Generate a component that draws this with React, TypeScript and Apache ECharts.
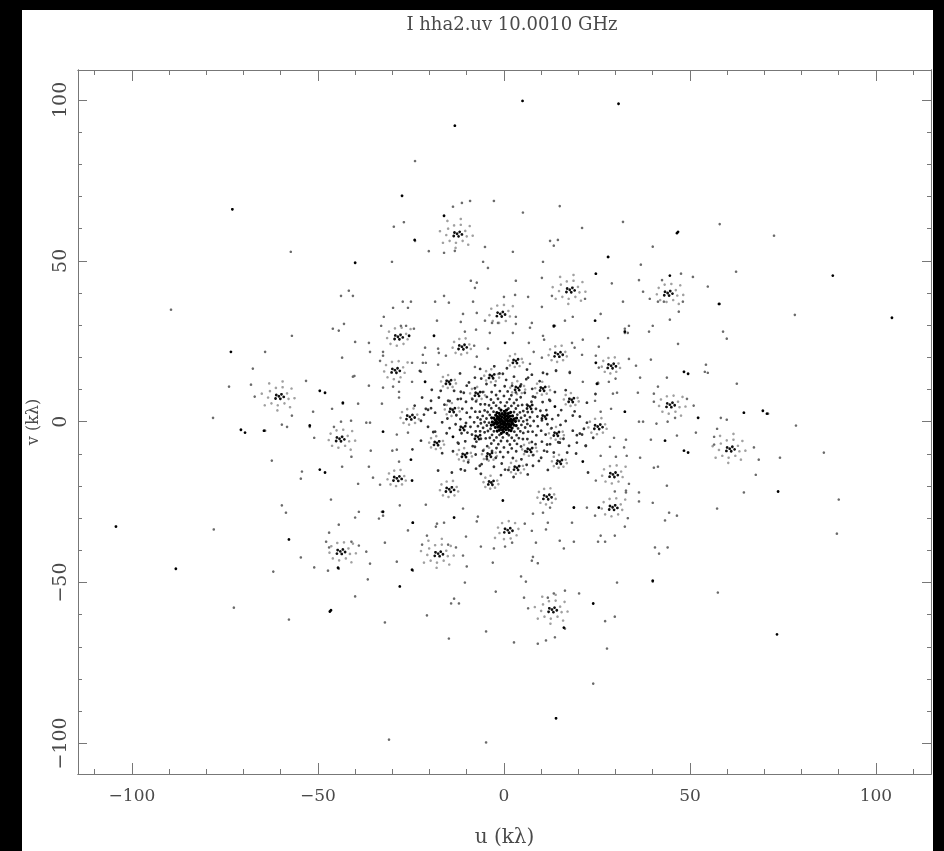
import React, { useEffect, useRef } from "react";
import * as echarts from "echarts";

type P = [number, number];

const titleText = "I hha2.uv 10.0010 GHz";
const xName = "u (kλ)";
const yName = "v (kλ)";
const majorTicks = [-100, -50, 0, 50, 100];
const minorTicks = [-110, -90, -80, -70, -60, -40, -30, -20, -10, 10, 20, 30, 40, 60, 70, 80, 90, 110];
const xRange = [-114.5, 114.8];
const yRange = [-109.5, 109.3];

const centreBlob: P[] = [
[0,0],[0.5,0.4],[-0.5,0.3],[0.3,-0.5],[-0.4,-0.5],[1,0.1],[-1,0],[0.1,1],[0,-1],[0.8,0.8],[-0.8,0.8],[0.8,-0.8],[-0.8,-0.8],
[1.5,0.4],[-1.5,-0.4],[1.4,-0.6],[-1.4,0.6],[0.4,1.6],[-0.4,-1.6],[-0.5,1.5],[0.5,-1.5],[1.2,1.3],[-1.2,-1.3],[1.3,-1.2],[-1.3,1.2],
[2,0],[-2,0],[0,2.1],[0,-2.1],[1.9,0.8],[-1.9,-0.8],[1.8,-1],[-1.8,1],[0.9,1.9],[-0.9,-1.9],[-1,1.9],[1,-1.9],[2.4,0.4],[-2.4,-0.4],[2.3,-0.5],[-2.3,0.5],
[1.6,1.7],[-1.6,-1.7],[1.7,-1.6],[-1.7,1.6],[0.4,2.6],[-0.4,-2.6],[-0.5,2.5],[0.5,-2.5],[2.8,0.9],[-2.8,-0.9],[2.7,-1.1],[-2.7,1.1],[1.2,2.6],[-1.2,-2.6],[-1.3,2.6],[1.3,-2.6],
[3.1,0.1],[-3.1,-0.1],[2.3,1.8],[-2.3,-1.8],[2.2,-2],[-2.2,2],[0.1,3.2],[-0.1,-3.2],[3.3,-1.2],[-3.3,1.2],[3.4,1.1],[-3.4,-1.1],[1.8,2.9],[-1.8,-2.9],[-1.9,2.8],[1.9,-2.8],[0.7,3.6],[-0.7,-3.6],[-0.8,3.6],[0.8,-3.6],
];

const innerDots: P[] = [
[4,0.3],[-4,-0.3],[3.6,2.2],[-3.6,-2.2],[3.8,-2.1],[-3.8,2.1],[2.7,3],[-2.7,-3],[2.8,-3.1],[-2.8,3.1],[1.2,4.1],[-1.2,-4.1],[-1.3,4.2],[1.3,-4.2],[4.6,1.2],[-4.6,-1.2],[4.7,-1],[-4.7,1],
[5.2,0.1],[-5.2,-0.1],[4.3,2.9],[-4.3,-2.9],[4.4,-3],[-4.4,3],[3.2,4.1],[-3.2,-4.1],[3.4,-4.2],[-3.4,4.2],[0.3,4.9],[-0.3,-4.9],[2,4.9],[-2,-4.9],[-2.1,5],[2.1,-5],[5.6,1.9],[-5.6,-1.9],[5.7,-1.8],[-5.7,1.8],
[6.2,0.5],[-6.2,-0.5],[6.3,-0.7],[-6.3,0.7],[5.2,3.3],[-5.2,-3.3],[5.2,-3.5],[-5.2,3.5],[3.8,5],[-3.8,-5],[4,-5.1],[-4,5.1],[0.8,6],[-0.8,-6],[-0.9,6],[0.9,-6],[2.7,5.8],[-2.7,-5.8],[-2.8,5.9],[2.8,-5.9],
[7,1.4],[-7,-1.4],[7.1,-1.3],[-7.1,1.3],[6.4,3],[-6.4,-3],[6.5,-3.1],[-6.5,3.1],[4.9,5.2],[-4.9,-5.2],[5.1,-5.4],[-5.1,5.4],[1.5,7],[-1.5,-7],[-1.6,7.1],[1.6,-7.1],[3.4,6.8],[-3.4,-6.8],[-3.5,6.9],[3.5,-6.9],
[8,0.2],[-8,-0.2],[7.6,3],[-7.6,-3],[7.7,-3.1],[-7.7,3.1],[6.2,5.3],[-6.2,-5.3],[6.3,-5.4],[-6.3,5.4],[0,8],[0,-8],[2,8.2],[-2,-8.2],[-2.1,8.3],[2.1,-8.3],[4.5,7.6],[-4.5,-7.6],[4.6,-7.7],[-4.6,7.7],
[9,1.6],[-9,-1.6],[9.1,-1.4],[-9.1,1.4],[8.6,4],[-8.6,-4],[8.7,-4.2],[-8.7,4.2],[7.4,6.2],[-7.4,-6.2],[7.5,-6.3],[-7.5,6.3],[1,9.4],[-1,-9.4],[-1.1,9.5],[1.1,-9.5],[3.2,9.1],[-3.2,-9.1],[-3.3,9.2],[3.3,-9.2],
[10.2,0.4],[-10.2,-0.4],[10,-2.8],[-10,2.8],[9.8,3.4],[-9.8,-3.4],[8.4,7.6],[-8.4,-7.6],[8.5,-7],[-8.5,7],[5.6,9],[-5.6,-9],[5.7,-9.2],[-5.7,9.2],[0.2,11],[-0.2,-11],[2.2,11.2],[-2.2,-11.2],[-2.4,11.3],[2.4,-11.3],
[11.7,-0.8],[-11.7,0.8],[11.4,3.6],[-11.4,-3.6],[11.2,-4],[-11.2,4],[10.4,6.1],[-10.4,-6.1],[10.2,-6.2],[-10.2,6.2],[7.6,10.2],[-7.6,-10.2],[7.8,-10.4],[-7.8,10.4],[4.6,11.6],[-4.6,-11.6],[4.7,-11.7],[-4.7,11.7],
[13,0.8],[-13,-0.8],[12.8,-2],[-12.8,2],[12.2,6.8],[-12.2,-6.8],[12.4,-7],[-12.4,7],[9.6,12.6],[-9.6,-12.6],[9.4,-12.2],[-9.4,12.2],[0.6,13],[-0.6,-13],[6,13.2],[-6,-13.2],[6.1,-13.4],[-6.1,13.4],[-1.2,15],[1.2,-15],
[14.6,2],[-14.6,-2],[15.2,-1],[-15.2,1],[15.4,3.6],[-15.4,-3.6],[14.6,-6.4],[-14.6,6.4],[13.7,9.2],[-13.7,-9.2],[13.4,-9.6],[-13.4,9.6],[16.6,0.2],[-16.6,-0.2],[15,-6.5],[-15,6.5],[6.2,16.2],[-6.2,-16.2],[6.4,-16.4],[-6.4,16.4],
[11.6,14.8],[-11.6,-14.8],[11.8,-15],[-11.8,15],[0.8,16.6],[-0.8,-16.6],[-2.6,17.2],[2.6,-17.2],[16.6,9.8],[-16.6,-9.8],[17,-9.6],[-17,9.6],[19,3.2],[-19,-3.2],[19.6,-4.2],[-19.6,4.2],
[14,15.8],[-14,-15.8],[10.5,15.2],[-10.5,-15.2],[17.7,15.2],[-17.7,-15.2],[2.7,14],[-2.7,-14],[6.5,13.7],[-6.5,-13.7],[7.5,14.6],[-7.5,-14.6],[-0.3,14.9],[0.3,-14.9],[-7.8,13.7],[7.8,-13.7],[-10,11.2],[10,-11.2],[-10.8,9],[10.8,-9],[-17.5,7.5],[17.5,-7.5],[-16,5.3],[16,-5.3],[-18.5,2.8],[18.5,-2.8],[-21.5,2.2],[21.5,-2.2],[-20.4,3.7],[20.4,-3.7],[-18.5,-3.1],[18.5,1.9],[-12.4,-6.5],[12.4,6.5],[-7.8,-7.8],[7.8,7.8],
[-22.6,15.8],[22.6,-15.8],[-19.4,9.9],[19.4,-9.9],[-22,7.5],[22,-7.5],[21,-4],[-21,4],[22,-7.5],[19.6,-6.5],[-19.6,6.5],[15,-6.5],[11.6,-7.1],[-11.6,7.1],[11.6,-9.3],[-11.6,9.3],[22.3,-0.3],[-22.3,0.3],[22.3,5.9],[-22.3,-5.9],[20.4,1.6],[-20.4,-1.6],[24,-5],[-24,5],[24.6,8.6],[-24.6,-8.6],
];

const darkOutliers: P[] = [
[46.8,59],[-46.8,-59],[46.5,58.6],[-46.5,-58.6],[88.4,45.4],[-88.2,-45.7],[104.3,32.3],[-104.3,-32.6],[73.7,-21.7],[-73.4,21.7],[52.2,1.2],[-52.2,-1.2],[43.3,-5.9],[-43.3,5.9],[32.5,3.1],[-32.5,-3.1],[64.5,2.8],[-64.5,-2.8],[-40,49.4],[40,-49.4],[-25,-11.8],[25,11.8],[-13.4,-29.8],[13.4,29.8],[-18.8,26.7],[18.8,-26.7],[-21.2,12.4],[21.2,-12.4],[13.7,4.7],[-13.7,-4.7],[0.3,24.5],[-0.3,-24.5],[25.5,-26.7],[-25.5,26.7],[-57.8,-36.6],[57.8,36.6],[14,-92.2],[73.4,-66.1],[-73,66],[-27.4,70.2],[5,99.7],[-13.2,92],[30.8,98.8],[-28,-51.2],[28,51.2],[-49.5,9.6],[-48.1,9],[49.5,-9.6],[48.4,-9],[-49.5,-14.9],[-48.1,-15.8],[49.5,14.9],[48.4,15.5],[-70.7,-2.5],[-69.6,-3.4],[70.7,2.5],[69.6,3.4],[-16.1,64],[16.1,-64],[24.7,46],[-24.7,-46],[44.6,45.4],[-44.6,-45.4],[24.5,31.4],[-24.5,-31.4],[24.7,18.3],[-24.7,-18.3],[24,-56.5],[-24,56.5],[-32.5,-28],[32.5,28],
];

const midOutliers: P[] = [
[32,62.1],[58,61.4],[72.6,57.8],[40,54.4],[28,51.2],[36.8,48.8],[29,43],[36.3,44],[47.6,46],[50.8,45],[42.5,44],[62.4,46.6],[54.8,42],[37.4,40.4],[39.2,38.2],[41.4,37.3],[43,37.3],[48.1,37.3],[58,36.6],[32,37.3],[26,33.5],[47,34.2],[44.6,31.7],[78.2,33.2],[40,29.8],[39,28],[33.6,29.8],[32.5,28.9],[32.5,27.6],[33.3,27.6],[58.9,28],[59.9,25.8],[28,26],[25.5,23.3],[46.8,24.2],[39.5,19.3],[33.6,19.5],[24.7,20.5],[25.5,16.8],[54.3,17.7],[54,15.5],[54.8,15.2],[35.5,17.4],[36.6,13.7],[43.8,13.7],[25.3,11.8],[28.2,12.4],[30,13.4],[41.4,10.9],[62.6,11.8],[29.3,8.7],[30.4,9],[36,9],[40.3,8.7],[40.3,6.2],[49.2,7.1],[51,5],[24.5,6.5],[26,3.1],[28.8,4],[71,2.5],[36.3,0],[37.4,0],[41,-0.6],[44,0],[46,1.2],[58.3,1.2],[59.9,0.6],[57.3,-2.2],[51.6,-3.4],[78.5,-1.2],[46.5,-4.3],[39.5,-5.6],[32.8,-5.6],[32.3,-8],[29.6,-5],[28.5,-7.8],[56.5,-4.7],[56.5,-7.1],[67.2,-8],[86,-9.6],[36.6,-11.2],[33,-10.6],[30.1,-10.9],[26,-10.6],[68.5,-11.8],[74.2,-11.2],[40.3,-14.3],[41.4,-14],[67.7,-16.5],[43.8,-19.9],[64.5,-22],[36.3,-22],[32.8,-21.4],[32.8,-22],[29.8,-21.7],[24.7,-18.3],[33.6,-19.3],[36.3,-24.8],[40,-25.2],[90,-24.2],[57.3,-27],[89.5,-34.8],[44.4,-28.3],[46.5,-29.2],[43.3,-30.7],[33.3,-30],[32.5,-32.6],[29.8,-35.4],[26,-35.4],[25.3,-37.3],[27.2,-37.3],[40.6,-39.1],[44,-39.1],[41.7,-41],[30.4,-50],[40,-49.7],[57.5,-53.1],[29.8,-60.6],[27.2,-62],[27.7,-70.5],[24,-81.4],
[-23.9,81],[-26.9,62],[-29.6,60.6],[-23.9,56.2],[-20.2,53],[-57.3,52.8],[-30.1,49.7],[-41.7,40.7],[-43.8,39.1],[-40.6,39.1],[-27.2,37.3],[-25,37.3],[-29.8,35.4],[-25.8,35.4],[-89.5,34.8],[-43,30.4],[-46,28.9],[-44.4,28.3],[-57,26.7],[-40,24.8],[-64.2,21.7],[-43.5,19.9],[-67.5,16.5],[-53.2,12.7],[-73.9,10.9],[-68,11.5],[-67,7.8],[-36.3,11.2],[-40.6,14],[-40.2,14.2],[-32.5,10.6],[-29.8,10.9],[-32.8,5.6],[-28.2,7.5],[-28.2,9.3],[-43.3,5.6],[-39.2,5.6],[-46.2,4],[-51.3,3.1],[-57,1.9],[-78.2,1.2],[-37,-0.3],[-36,-0.3],[-59.7,-0.9],[-58.3,-1.6],[-52.2,-1.6],[-64.2,-2.8],[-45.7,-1.6],[-28.8,-4],[-25.8,-3.4],[-41.1,0.3],[-43.8,0],[-51,-5],[-35.8,-9],[-30,-9],[-28.8,-8.7],[-62.4,-12.1],[-41,-10.9],[-28.2,-12.4],[-36.3,-14],[-43.5,-14],[-54.3,-15.5],[-54.6,-17.7],[-35.2,-17.4],[-39.2,-19.3],[-33.3,-19.6],[-46.5,-24.2],[-39,-28],[-40,-29.8],[-32.8,-28],[-32.5,-29.2],[-33.6,-30.1],[-28,-26],[-59.7,-26],[-58.6,-28.3],[-44.4,-32],[-78,-33.5],[-25.8,-33.8],[-24.5,-31.4],[-47,-34.5],[-47.8,-37.3],[-47,-39.1],[-54.6,-42.2],[-37,-40.4],[-36,-44.1],[-28.8,-43.5],[-24.5,-46.3],[-51,-45.3],[-47.3,-46.3],[-44.4,-45.7],[-62,-46.6],[-36.6,-49],[-40,-54.3],[-32,-37.6],[-72.6,-57.8],[-57.8,-61.5],
[-21,-25.8],[-16.1,-31.4],[-18,-31.7],[-18.3,-32.6],[-11,-27],[-7,-29.5],[-7.3,-31],[-20.7,-35.4],[-10.2,-35.7],[-41,-37.3],[-39,-38.5],[-12.9,-39.1],[-15,-38.2],[-22,-38.2],[-11,-41.6],[-10,-45],[-10.5,-50],[-3,-43.8],[-6.2,-38.8],[-2.7,-39.4],[0.3,-38.8],[2.2,-37.6],[8.6,-37.6],[15,-37],[18.8,-37.3],[16.1,-39.4],[11.3,-33.5],[11.8,-31.4],[7.5,-33.9],[5.6,-31.7],[7.8,-28.6],[10.5,-28.3],[12.4,-26.7],[18.8,-26.7],[22.3,-26.7],[18.3,-31.4],[24.5,-29.2],[7.8,-42],[7.5,-43.2],[9.1,-44],[4.6,-48.1],[5.9,-49.7],[-2.2,-52.8],[-13.4,-55],[-14.2,-56.5],[-12.1,-56.5],[5.4,-54.7],[6.5,-58],[-20.7,-60.2],[-32,-62.4],[-4.8,-65.2],[-14.8,-67.4],[2.7,-68.6],[9.1,-69],[11.3,-68],[13.7,-67],[20.2,-53.4],[16.4,-52.5],[13.4,-53.4],[11.8,-54.7],[16.4,-64.3],[-30.9,-98.8],[-4.8,-99.7],
[-11.3,68],[-9.1,68.6],[-13.7,66.8],[-2.7,68.6],[15,67],[5.1,65],[21,60.2],[12.4,56.2],[14.5,56.5],[13.4,54.7],[-5.1,54.3],[-16.1,52.5],[-13.2,53.1],[2.4,52.8],[-5.6,49.7],[-4.3,47.8],[10.5,49.7],[-8.9,43.8],[-7.3,43.2],[-7.8,41.6],[3.2,43.8],[10.2,44.7],[-16.1,39.1],[-18.5,37.3],[-14.8,37],[3,39.4],[0,38.8],[6.5,38.8],[12.9,39.1],[21.8,38.2],[10.2,35.7],[-8.3,37.3],[-32.3,32.6],[-7.3,33.8],[-11,33.5],[-11.6,31],[-18,31.4],[-5.1,31.4],[-3.2,30.7],[-1.6,30.7],[3.2,32.6],[3.2,30.4],[7.5,30.7],[7,29.2],[13.4,29.5],[16.4,31.4],[18.5,32.6],[2.4,27.6],[-10.5,28],[-7.5,28.6],[-3.8,27.6],[10.5,26.7],[21.2,25.5],[-33,29.8],[-27.7,29.8],[-26.3,29.8],[-24.2,28.9],[-36.3,24.5],[-36,21.7],[-21.2,23],[-17.7,22.7],[-17.5,21.4],[-4.3,22.7],[6.7,24.5],[8,21.7],[10.2,19.9],[7,18],[21,20.8],[19,23],[-32.5,21.7],[-32.5,20.5],[-33.3,18.9],[-21.8,20.8],[-21,18.3],[-21.8,18.3],[-24.7,18.3],[-22.3,15.5],[-15.6,20.5],[-17.7,17.7],[-7.8,17],[-7.3,20.2],[-8,23.6],[-24.7,12.4],[-28.2,12.4],[21.2,12.4],[14,16],[17.7,15.5],[13.7,29.8],[10.8,25.5],[18.3,24.5],[25.3,12.1],
];

const spiralCores: P[] = [
[-12.6,58.4],[-11.9,59],[-13.3,58.8],[-12.2,57.6],[-13.5,57.7],[-11.3,58.2],
[12.9,-58.4],[13.6,-57.8],[12.2,-58],[13.3,-59.2],[12,-59.1],[14.2,-58.6],
[17.7,41],[18.4,41.6],[17,41.4],[18.1,40.2],[16.8,40.3],[19,40.8],
[-17.7,-41],[-17,-40.4],[-18.4,-40.6],[-17.3,-41.8],[-18.6,-41.7],[-16.4,-41.2],
[44,40],[44.7,40.6],[43.3,40.4],[44.4,39.2],[43.1,39.3],[45.3,39.8],
[-44,-40.3],[-43.3,-39.7],[-44.7,-39.9],[-43.6,-41.1],[-44.9,-41],[-42.7,-40.5],
[44.6,5.3],[45.3,5.9],[43.9,5.7],[45,4.5],[43.7,4.6],[45.9,5.1],
[-44.2,-5.3],[-43.5,-4.7],[-44.9,-4.9],[-43.8,-6.1],[-45.1,-6],[-42.9,-5.5],
[60.7,-8.4],[61.4,-7.8],[60,-8],[61.1,-9.2],[59.8,-9.1],[62,-8.6],
[-60.5,7.9],[-59.8,8.5],[-61.2,8.3],[-60.1,7.1],[-61.4,7.2],[-59.2,7.7],
[-1,33.5],[-0.3,34.1],[-1.7,33.9],[-0.6,32.7],[-1.9,32.8],[0.3,33.3],
[1,-33.7],[1.7,-33.1],[0.3,-33.3],[1.4,-34.5],[0.1,-34.4],[2.3,-33.9],
[-28.5,26.4],[-27.8,27],[-29.2,26.8],[-28.1,25.6],[-29.4,25.7],[-27.2,26.2],
[29.2,-26.6],[29.9,-26],[28.5,-26.2],[29.6,-27.4],[28.3,-27.3],[30.5,-26.8],
[-29.3,16],[-28.6,16.6],[-30,16.4],[-28.9,15.2],[-30.2,15.3],[-28,15.8],
[29.3,-16.4],[30,-15.8],[28.6,-16],[29.7,-17.2],[28.4,-17.1],[30.6,-16.6],
[-11.3,23.3],[-10.6,23.9],[-12,23.7],[-10.9,22.5],[-12.2,22.6],[-10,23.1],
[11.5,-23.3],[12.2,-22.7],[10.8,-22.9],[11.9,-24.1],[10.6,-24],[12.8,-23.5],
[14.5,21],[15.2,21.6],[13.8,21.4],[14.9,20.2],[13.6,20.3],[15.8,20.8],
[-14.7,-21],[-14,-20.4],[-15.4,-20.6],[-14.3,-21.8],[-15.6,-21.7],[-13.4,-21.2],
[28.8,17.4],[29.5,18],[28.1,17.8],[29.2,16.6],[27.9,16.7],[30.1,17.2],
[-28.8,-17.6],[-28.1,-17],[-29.5,-17.2],[-28.4,-18.4],[-29.7,-18.3],[-27.5,-17.8],
[-25.3,1.5],[-24.6,2.1],[-26,1.9],[-24.9,0.7],[-26.2,0.8],[-24,1.3],
[25.2,-1.5],[25.9,-0.9],[24.5,-1.1],[25.6,-2.3],[24.3,-2.2],[26.5,-1.7],
[3.2,18.9],[3.8,19.4],[2.6,19.2],[3.5,18.2],[2.4,18.3],
[-3.4,-18.9],[-2.8,-18.4],[-4,-18.6],[-3.1,-19.6],[-4.2,-19.5],
[-14.8,12.4],[-14.2,12.9],[-15.4,12.7],[-14.5,11.7],[-15.6,11.8],
[15,-12.4],[15.6,-11.9],[14.4,-12.1],[15.3,-13.1],[14.2,-13],
[18.2,6.8],[18.8,7.3],[17.6,7.1],[18.5,6.1],[17.4,6.2],
[-18,-6.6],[-17.4,-6.1],[-18.6,-6.3],[-17.7,-7.3],[-18.8,-7.2],
[10.5,10.3],[11.1,10.8],[9.9,10.6],[10.8,9.6],[9.7,9.7],
[-10.5,-10.3],[-9.9,-9.8],[-11.1,-10],[-10.2,-11],[-11.3,-10.9],
[3.8,10.5],[4.4,11],[3.2,10.8],[4.1,9.8],[3,9.9],
[-3.8,-10.2],[-3.2,-9.7],[-4.4,-9.9],[-3.5,-10.9],[-4.6,-10.8],
[-3.2,14.2],[-2.6,14.7],[-3.8,14.5],[-2.9,13.5],[-4,13.6],
[3.5,-14.3],[4.1,-13.8],[2.9,-14],[3.8,-15],[2.7,-14.9],
[-7,8.7],[-6.4,9.2],[-7.6,9],[-6.7,8],[-7.8,8.1],
[7,-8.7],[7.6,-8.2],[6.4,-8.4],[7.3,-9.4],[6.2,-9.3],
[-13.8,3.7],[-13.2,4.2],[-14.4,4],[-13.5,3],[-14.6,3.1],
[14.2,-3.7],[14.8,-3.2],[13.6,-3.4],[14.5,-4.4],[13.4,-4.3],
[-11,-1.9],[-10.4,-1.4],[-11.6,-1.6],[-10.7,-2.6],[-11.8,-2.5],
[11,1.6],[11.6,2.1],[10.4,1.9],[11.3,0.9],[10.2,1],
[-7,-4.7],[-6.4,-4.2],[-7.6,-4.4],[-6.7,-5.4],[-7.8,-5.3],
[7,4.7],[7.6,5.2],[6.4,5],[7.3,4],[6.2,4.1],
];

const spiralArms: P[] = [
[-10.4,59.3],[-10,57.6],[-11.1,56.2],[-12.9,55.6],[-14.6,56.2],[-15.5,58],[-15,60],[-13.4,61],[-11.6,61.2],[-9.2,60.8],[-8.4,57.8],[-9.6,55],[-13,54],[-16.4,55.6],[-17.2,59.2],[-15.2,62.4],[-11.6,63],
[15.1,-57.5],[15.5,-59.2],[14.4,-60.6],[12.6,-61.2],[10.9,-60.6],[10,-58.8],[10.5,-56.8],[12.1,-55.8],[13.9,-55.6],[16.3,-56],[17.1,-59],[15.9,-61.8],[12.5,-62.8],[9.1,-61.2],[8.3,-57.6],[10.3,-54.4],[13.9,-53.8],
[19.9,41.9],[20.3,40.2],[19.2,38.8],[17.4,38.2],[15.7,38.8],[14.8,40.6],[15.3,42.6],[16.9,43.6],[18.7,43.8],[21.1,43.4],[21.9,40.4],[20.7,37.6],[17.3,36.6],[13.9,38.2],[13.1,41.8],[15.1,45],[18.7,45.6],
[-15.5,-40.1],[-15.1,-41.8],[-16.2,-43.2],[-18,-43.8],[-19.7,-43.2],[-20.6,-41.4],[-20.1,-39.4],[-18.5,-38.4],[-16.7,-38.2],[-14.3,-38.6],[-13.5,-41.6],[-14.7,-44.4],[-18.1,-45.4],[-21.5,-43.8],[-22.3,-40.2],[-20.3,-37],[-16.7,-36.4],
[46.2,40.9],[46.6,39.2],[45.5,37.8],[43.7,37.2],[42,37.8],[41.1,39.6],[41.6,41.6],[43.2,42.6],[45,42.8],[47.4,42.4],[48.2,39.4],[47,36.6],
[-41.8,-39.4],[-41.4,-41.1],[-42.5,-42.5],[-44.3,-43.1],[-46,-42.5],[-46.9,-40.7],[-46.4,-38.7],[-44.8,-37.7],[-43,-37.5],[-40.6,-37.9],[-39.8,-40.9],[-41,-43.7],
[46.8,6.2],[47.2,4.5],[46.1,3.1],[44.3,2.5],[42.6,3.1],[41.7,4.9],[42.2,6.9],[43.8,7.9],[45.6,8.1],[48,7.7],[48.8,4.7],[47.6,1.9],
[-42,-4.4],[-41.6,-6.1],[-42.7,-7.5],[-44.5,-8.1],[-46.2,-7.5],[-47.1,-5.7],[-46.6,-3.7],[-45,-2.7],[-43.2,-2.5],[-40.8,-2.9],[-40,-5.9],[-41.2,-8.7],
[62.9,-7.5],[63.3,-9.2],[62.2,-10.6],[60.4,-11.2],[58.7,-10.6],[57.8,-8.8],[58.3,-6.8],[59.9,-5.8],[61.7,-5.6],[64.1,-6],[64.9,-9],[63.7,-11.8],[60.3,-12.8],[56.9,-11.2],[56.1,-7.6],[58.1,-4.4],[61.7,-3.8],
[-58.3,8.8],[-57.9,7.1],[-59,5.7],[-60.8,5.1],[-62.5,5.7],[-63.4,7.5],[-62.9,9.5],[-61.3,10.5],[-59.5,10.7],[-57.1,10.3],[-56.3,7.3],[-57.5,4.5],[-60.9,3.5],[-64.3,5.1],[-65.1,8.7],[-63.1,11.9],[-59.5,12.5],
[1.2,34.4],[1.6,32.7],[0.5,31.3],[-1.3,30.7],[-3,31.3],[-3.9,33.1],[-3.4,35.1],[-1.8,36.1],[0,36.3],[2.4,35.9],
[-1.2,-34.6],[-1.6,-32.9],[-0.5,-31.5],[1.3,-30.9],[3,-31.5],[3.9,-33.3],[3.4,-35.3],[1.8,-36.3],[0,-36.5],[-2.4,-36.1],
[-26.3,27.3],[-25.9,25.6],[-27,24.2],[-28.8,23.6],[-30.5,24.2],[-31.4,26],[-30.9,28],[-29.3,29],[-27.5,29.2],[-25.1,28.8],
[31.4,-25.7],[31.8,-27.4],[30.7,-28.8],[28.9,-29.4],[27.2,-28.8],[26.3,-27],[26.8,-25],[28.4,-24],[30.2,-23.8],[32.6,-24.2],
[-27.1,16.9],[-26.7,15.2],[-27.8,13.8],[-29.6,13.2],[-31.3,13.8],[-32.2,15.6],[-31.7,17.6],[-30.1,18.6],[-28.3,18.8],[-25.9,18.4],
[31.5,-15.5],[31.9,-17.2],[30.8,-18.6],[29,-19.2],[27.3,-18.6],[26.4,-16.8],[26.9,-14.8],[28.5,-13.8],[30.3,-13.6],[32.7,-14],
[-9.3,24],[-8.9,22.6],[-9.9,21.4],[-11.5,20.9],[-13,21.4],[-13.8,23],[-13.4,24.8],[-12,25.7],[-10.3,25.9],
[13.5,-22.6],[13.9,-24],[12.9,-25.2],[11.3,-25.7],[9.8,-25.2],[9,-23.6],[9.4,-21.8],[10.8,-20.9],[12.5,-20.7],
[16.5,21.7],[16.9,20.3],[15.9,19.1],[14.3,18.6],[12.8,19.1],[12,20.7],[12.4,22.5],[13.8,23.4],[15.5,23.6],
[-12.7,-20.3],[-12.3,-21.7],[-13.3,-22.9],[-14.9,-23.4],[-16.4,-22.9],[-17.2,-21.3],[-16.8,-19.5],[-15.4,-18.6],[-13.7,-18.4],
[30.8,18.1],[31.2,16.7],[30.2,15.5],[28.6,15],[27.1,15.5],[26.3,17.1],[26.7,18.9],[28.1,19.8],[29.8,20],
[-26.8,-16.9],[-26.4,-18.3],[-27.4,-19.5],[-29,-20],[-30.5,-19.5],[-31.3,-17.9],[-30.9,-16.1],[-29.5,-15.2],[-27.8,-15],
[-23.3,2.2],[-22.9,0.8],[-23.9,-0.4],[-25.5,-0.9],[-27,-0.4],[-27.8,1.2],[-27.4,3],[-26,3.9],[-24.3,4.1],
[27.2,-0.8],[27.6,-2.2],[26.6,-3.4],[25,-3.9],[23.5,-3.4],[22.7,-1.8],[23.1,0],[24.5,0.9],[26.2,1.1],
[4.8,19.5],[5.1,18.4],[4.2,17.3],[2.9,17],[1.6,17.5],[1.1,19],[1.6,20.4],[3,21],
[-1.8,-18.3],[-1.5,-19.4],[-2.4,-20.5],[-3.7,-20.8],[-5,-20.3],[-5.5,-18.8],[-5,-17.4],[-3.6,-16.8],
[-13.2,13],[-12.9,11.9],[-13.8,10.8],[-15.1,10.5],[-16.4,11],[-16.9,12.5],[-16.4,13.9],[-15,14.5],
[16.6,-11.8],[16.9,-12.9],[16,-14],[14.7,-14.3],[13.4,-13.8],[12.9,-12.3],[13.4,-10.9],[14.8,-10.3],
[19.8,7.4],[20.1,6.3],[19.2,5.2],[17.9,4.9],[16.6,5.4],[16.1,6.9],[16.6,8.3],[18,8.9],
[-16.4,-6],[-16.1,-7.1],[-17,-8.2],[-18.3,-8.5],[-19.6,-8],[-20.1,-6.5],[-19.6,-5.1],[-18.2,-4.5],
[12.1,10.9],[12.4,9.8],[11.5,8.7],[10.2,8.4],[8.9,8.9],[8.4,10.4],[8.9,11.8],[10.3,12.4],
[-8.9,-9.7],[-8.6,-10.8],[-9.5,-11.9],[-10.8,-12.2],[-12.1,-11.7],[-12.6,-10.2],[-12.1,-8.8],[-10.7,-8.2],
[5.4,11.1],[5.7,10],[4.8,8.9],[3.5,8.6],[2.2,9.1],[1.7,10.6],[2.2,12],[3.6,12.6],
[-2.2,-9.6],[-1.9,-10.7],[-2.8,-11.8],[-4.1,-12.1],[-5.4,-11.6],[-5.9,-10.1],[-5.4,-8.7],[-4,-8.1],
[-1.6,14.8],[-1.3,13.7],[-2.2,12.6],[-3.5,12.3],[-4.8,12.8],[-5.3,14.3],[-4.8,15.7],[-3.4,16.3],
[5.1,-13.7],[5.4,-14.8],[4.5,-15.9],[3.2,-16.2],[1.9,-15.7],[1.4,-14.2],[1.9,-12.8],[3.3,-12.2],
[-5.4,9.3],[-5.1,8.2],[-6,7.1],[-7.3,6.8],[-8.6,7.3],[-9.1,8.8],[-8.6,10.2],[-7.2,10.8],
[8.6,-8.1],[8.9,-9.2],[8,-10.3],[6.7,-10.6],[5.4,-10.1],[4.9,-8.6],[5.4,-7.2],[6.8,-6.6],
[-12.2,4.3],[-11.9,3.2],[-12.8,2.1],[-14.1,1.8],[-15.4,2.3],[-15.9,3.8],[-15.4,5.2],[-14,5.8],
[15.8,-3.1],[16.1,-4.2],[15.2,-5.3],[13.9,-5.6],[12.6,-5.1],[12.1,-3.6],[12.6,-2.2],[14,-1.6],
];

export default function App() {
  const ref = useRef<HTMLDivElement>(null);
  useEffect(() => {
    document.body.style.margin = "0";
    document.body.style.background = "#000";
    const chart = echarts.init(ref.current!, undefined, { renderer: "svg" });
    const serif = "'DejaVu Serif', 'Liberation Serif', serif";
    const textColor = "#4a4a4a";
    const lineStyle = { color: "#777", width: 1 };
    const longMinus = (v: number) => String(v).replace("-", "\u2212");
    const makeAxis = (range: number[], position: string, ticks: number[], len: number, extra: object) => ({
      type: "value",
      min: range[0],
      max: range[1],
      position,
      splitLine: { show: false },
      axisLine: { show: true, onZero: false, lineStyle },
      axisTick: { show: true, inside: true, length: len, customValues: ticks, lineStyle },
      axisLabel: { show: false },
      ...extra,
    });
    const markSeries = (data: P[], color: string, size: number) => ({
      type: "scatter",
      data,
      symbol: "circle",
      symbolSize: size,
      silent: true,
      itemStyle: { color, opacity: 1 },
      xAxisIndex: 0,
      yAxisIndex: 0,
    });
    chart.setOption({
      animation: false,
      title: {
        text: titleText,
        left: 507,
        top: 9,
        textAlign: "center",
        textStyle: { fontFamily: serif, fontSize: 18, fontWeight: "normal", color: "#4a4a4a" },
      },
      grid: { left: 78, right: 13, top: 70, bottom: 76, containLabel: false },
      xAxis: [
        makeAxis(xRange, "bottom", majorTicks, 11, {
          axisLabel: { show: true, customValues: majorTicks, formatter: longMinus, margin: 12, fontFamily: serif, fontSize: 17, color: textColor },
          name: xName,
          nameLocation: "middle",
          nameGap: 52,
          nameTextStyle: { fontFamily: serif, fontSize: 20, color: textColor },
        }),
        makeAxis(xRange, "bottom", minorTicks, 5, {}),
        makeAxis(xRange, "top", majorTicks, 11, {}),
        makeAxis(xRange, "top", minorTicks, 5, {}),
      ],
      yAxis: [
        makeAxis(yRange, "left", majorTicks, 9, {
          axisLabel: { show: true, customValues: majorTicks, formatter: longMinus, rotate: 90, margin: 10, fontFamily: serif, fontSize: 19, color: textColor },
          name: yName,
          nameLocation: "middle",
          nameGap: 38,
          nameRotate: 90,
          nameTextStyle: { fontFamily: serif, fontSize: 16, color: textColor },
        }),
        makeAxis(yRange, "left", minorTicks, 4, {}),
        makeAxis(yRange, "right", majorTicks, 9, {}),
        makeAxis(yRange, "right", minorTicks, 4, {}),
      ],
      series: [
        markSeries(spiralArms, "#a0a0a0", 2.6),
        markSeries(midOutliers, "#6a6a6a", 2.6),
        markSeries(innerDots, "#333333", 2.8),
        markSeries(darkOutliers, "#000000", 2.8),
        markSeries(spiralCores, "#111111", 2.8),
        markSeries(centreBlob, "#000000", 3.2),
      ],
    });
    return () => chart.dispose();
  }, []);
  return (
    <div style={{ position: "relative", width: 944, height: 851, background: "#000", overflow: "hidden" }}>
      <div style={{ position: "absolute", left: 22, top: 10, width: 911, height: 841, background: "#fff" }} />
      <div ref={ref} style={{ position: "absolute", left: 0, top: 0, width: 944, height: 851, filter: "blur(0.5px)" }} />
    </div>
  );
}
